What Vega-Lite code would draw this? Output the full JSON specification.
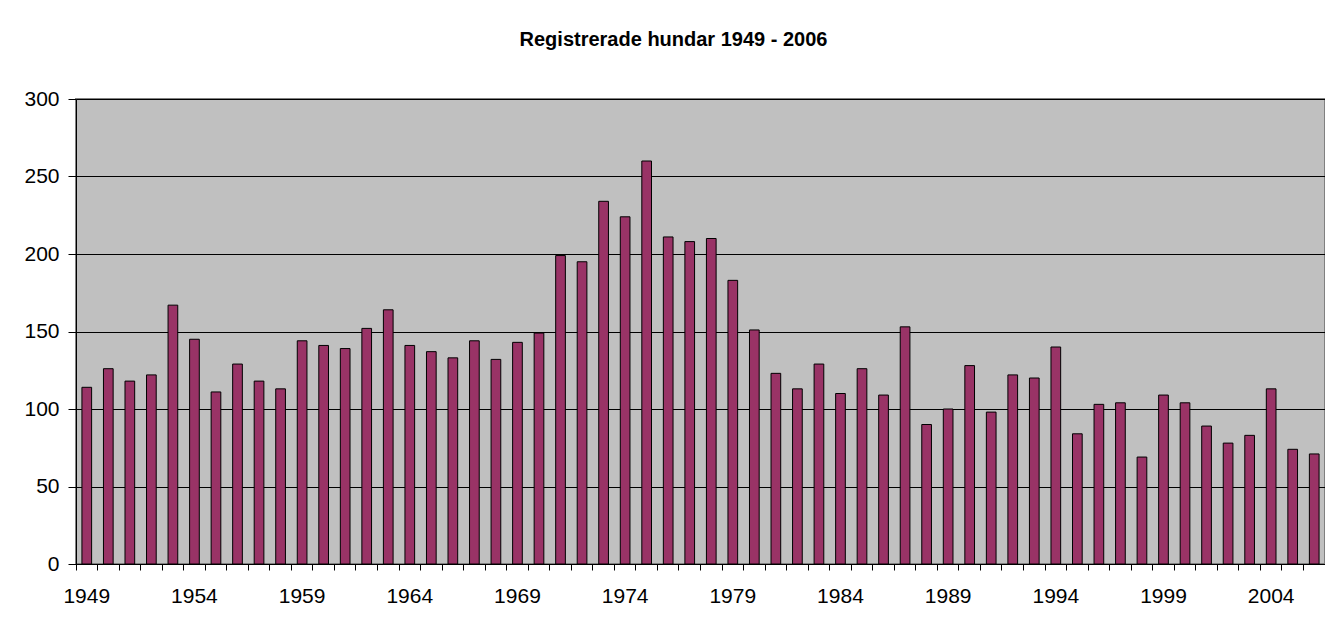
{
  "$schema": "https://vega.github.io/schema/vega-lite/v6.json",
  "width": 1249,
  "height": 465,
  "autosize": {"type": "none"},
  "padding": {"left": 76, "top": 99, "right": 0, "bottom": 53},
  "background": "white",
  "title": {
    "text": "Registrerade hundar 1949 - 2006",
    "font": "Liberation Sans",
    "fontSize": 20,
    "fontWeight": "bold",
    "color": "black",
    "anchor": "middle",
    "frame": "group",
    "dx": -27,
    "offset": 38
  },
  "config": {
    "view": {"fill": "#C0C0C0", "stroke": "#808080", "strokeWidth": 2},
    "axis": {
      "labelFont": "Liberation Sans",
      "labelFontSize": 21,
      "labelColor": "black",
      "domainColor": "black",
      "tickColor": "black",
      "title": null
    }
  },
  "data": {
    "values": [
      {"year": 1949, "count": 114}, {"year": 1950, "count": 126}, {"year": 1951, "count": 118},
      {"year": 1952, "count": 122}, {"year": 1953, "count": 167}, {"year": 1954, "count": 145},
      {"year": 1955, "count": 111}, {"year": 1956, "count": 129}, {"year": 1957, "count": 118},
      {"year": 1958, "count": 113}, {"year": 1959, "count": 144}, {"year": 1960, "count": 141},
      {"year": 1961, "count": 139}, {"year": 1962, "count": 152}, {"year": 1963, "count": 164},
      {"year": 1964, "count": 141}, {"year": 1965, "count": 137}, {"year": 1966, "count": 133},
      {"year": 1967, "count": 144}, {"year": 1968, "count": 132}, {"year": 1969, "count": 143},
      {"year": 1970, "count": 149}, {"year": 1971, "count": 199}, {"year": 1972, "count": 195},
      {"year": 1973, "count": 234}, {"year": 1974, "count": 224}, {"year": 1975, "count": 260},
      {"year": 1976, "count": 211}, {"year": 1977, "count": 208}, {"year": 1978, "count": 210},
      {"year": 1979, "count": 183}, {"year": 1980, "count": 151}, {"year": 1981, "count": 123},
      {"year": 1982, "count": 113}, {"year": 1983, "count": 129}, {"year": 1984, "count": 110},
      {"year": 1985, "count": 126}, {"year": 1986, "count": 109}, {"year": 1987, "count": 153},
      {"year": 1988, "count": 90}, {"year": 1989, "count": 100}, {"year": 1990, "count": 128},
      {"year": 1991, "count": 98}, {"year": 1992, "count": 122}, {"year": 1993, "count": 120},
      {"year": 1994, "count": 140}, {"year": 1995, "count": 84}, {"year": 1996, "count": 103},
      {"year": 1997, "count": 104}, {"year": 1998, "count": 69}, {"year": 1999, "count": 109},
      {"year": 2000, "count": 104}, {"year": 2001, "count": 89}, {"year": 2002, "count": 78},
      {"year": 2003, "count": 83}, {"year": 2004, "count": 113}, {"year": 2005, "count": 74},
      {"year": 2006, "count": 71}
    ]
  },
  "mark": {"type": "bar", "fill": "#993366", "stroke": "black", "strokeWidth": 1, "width": {"band": 0.45}},
  "encoding": {
    "x": {
      "field": "year",
      "type": "ordinal",
      "scale": {"paddingInner": 0, "paddingOuter": 0},
      "axis": {
        "bandPosition": 0,
        "labelAngle": 0,
        "tickSize": 6,
        "labelPadding": 15,
        "grid": false,
        "labelExpr": "(datum.value - 1949) % 5 == 0 ? datum.label : ''"
      }
    },
    "y": {
      "field": "count",
      "type": "quantitative",
      "scale": {"domain": [0, 300], "nice": false},
      "axis": {
        "values": [0, 50, 100, 150, 200, 250, 300],
        "tickSize": 8,
        "labelPadding": 9,
        "grid": true,
        "gridColor": "black",
        "gridOpacity": 1,
        "gridWidth": 1
      }
    }
  }
}
